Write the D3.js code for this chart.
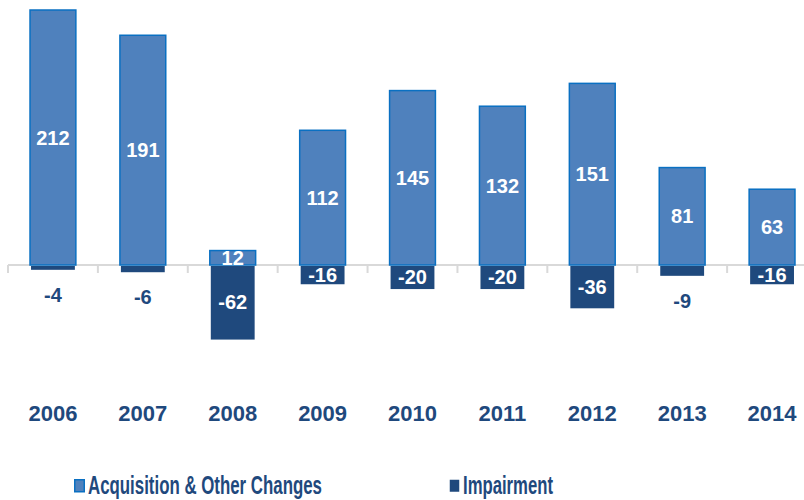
<!DOCTYPE html>
<html>
<head>
<meta charset="utf-8">
<script src="https://cdn.jsdelivr.net/npm/d3@7"></script>
<style>
  body { margin: 0; background: #fff; }
  svg { display: block; font-family: "Liberation Sans", Arial, sans-serif; }
</style>
</head>
<body>
<svg id="chart" width="804" height="500"></svg>
<script>
const years = ["2006", "2007", "2008", "2009", "2010", "2011", "2012", "2013", "2014"];
const acquisition = [212, 191, 12, 112, 145, 132, 151, 81, 63];
const impairment = [-4, -6, -62, -16, -20, -20, -36, -9, -16];
const seriesNames = ["Acquisition & Other Changes", "Impairment"];

const colors = { acq: "#4f81bd", acqStroke: "#0a70c2", imp: "#1f497d", text: "#1f497d" };

const svg = d3.select("#chart");

// scales
const x = d3.scaleBand()
  .domain(years)
  .range([8, 817])
  .paddingInner(0.49)
  .paddingOuter(0.245);

const y = d3.scaleLinear().domain([0, 212]).range([265, 10]);

// axis line with ticks between categories
const axisG = svg.append("g").attr("transform", `translate(0, ${y(0)})`);
axisG.append("line")
  .attr("x1", 8).attr("x2", 804)
  .attr("stroke", "#d9d9d9").attr("stroke-width", 2);
axisG.selectAll(".tick")
  .data(years)
  .join("line")
  .attr("class", "tick")
  .attr("x1", (d) => x(d) - x.step() * x.paddingInner() / 2)
  .attr("x2", (d) => x(d) - x.step() * x.paddingInner() / 2)
  .attr("y1", 0).attr("y2", 8)
  .attr("stroke", "#d9d9d9").attr("stroke-width", 2);

// bars
svg.selectAll(".acq")
  .data(years)
  .join("rect")
  .attr("class", "acq")
  .attr("x", (d) => x(d))
  .attr("width", x.bandwidth())
  .attr("y", (d, i) => y(acquisition[i]))
  .attr("height", (d, i) => y(0) - y(acquisition[i]))
  .attr("fill", colors.acq)
  .attr("stroke", colors.acqStroke)
  .attr("stroke-width", 1.5);

svg.selectAll(".imp")
  .data(years)
  .join("rect")
  .attr("class", "imp")
  .attr("x", (d) => x(d) + 1)
  .attr("width", x.bandwidth() - 2)
  .attr("y", y(0) + 1)
  .attr("height", (d, i) => y(impairment[i]) - y(0) - 1)
  .attr("fill", colors.imp);

// labels
svg.selectAll(".acq-label")
  .data(years)
  .join("text")
  .attr("class", "acq-label")
  .attr("x", (d) => x(d) + x.bandwidth() / 2)
  .attr("y", (d, i) => (y(acquisition[i]) + y(0)) / 2 + 7)
  .attr("text-anchor", "middle")
  .attr("font-size", 20)
  .attr("font-weight", "bold")
  .attr("fill", "#fff")
  .text((d, i) => acquisition[i]);

svg.selectAll(".imp-label")
  .data(years)
  .join("text")
  .attr("class", "imp-label")
  .attr("x", (d) => x(d) + x.bandwidth() / 2)
  .attr("y", (d, i) => {
    const h = y(impairment[i]) - y(0);
    return h >= 18 ? (y(impairment[i]) + y(0)) / 2 + 7 : y(impairment[i]) + 32;
  })
  .attr("text-anchor", "middle")
  .attr("font-size", 20)
  .attr("font-weight", "bold")
  .attr("fill", (d, i) => (y(impairment[i]) - y(0) >= 18 ? "#fff" : colors.text))
  .text((d, i) => impairment[i]);

// year labels
svg.selectAll(".year")
  .data(years)
  .join("text")
  .attr("class", "year")
  .attr("x", (d) => x(d) + x.bandwidth() / 2)
  .attr("y", 421)
  .attr("text-anchor", "middle")
  .attr("font-size", 22)
  .attr("font-weight", "bold")
  .attr("fill", colors.text)
  .text((d) => d);

// legend
const legend = [
  { name: seriesNames[0], x: 74, fill: colors.acq, stroke: colors.acqStroke, width: 234 },
  { name: seriesNames[1], x: 449, fill: colors.imp, stroke: "none", width: 90 },
];
const lg = svg.selectAll(".legend")
  .data(legend)
  .join("g")
  .attr("class", "legend")
  .attr("transform", (d) => `translate(${d.x}, 479)`);
lg.append("rect")
  .attr("x", 0.75).attr("y", 0.75)
  .attr("width", 9.5).attr("height", 12)
  .attr("fill", (d) => d.fill)
  .attr("stroke", (d) => d.stroke)
  .attr("stroke-width", 1.5);
lg.append("text")
  .attr("x", 14)
  .attr("y", 15)
  .attr("font-family", "'Liberation Sans Narrow', 'Liberation Sans', Arial, sans-serif")
  .attr("font-size", 25)
  .attr("font-weight", "bold")
  .attr("fill", colors.text)
  .attr("textLength", (d) => d.width)
  .attr("lengthAdjust", "spacingAndGlyphs")
  .text((d) => d.name);
</script>
</body>
</html>
